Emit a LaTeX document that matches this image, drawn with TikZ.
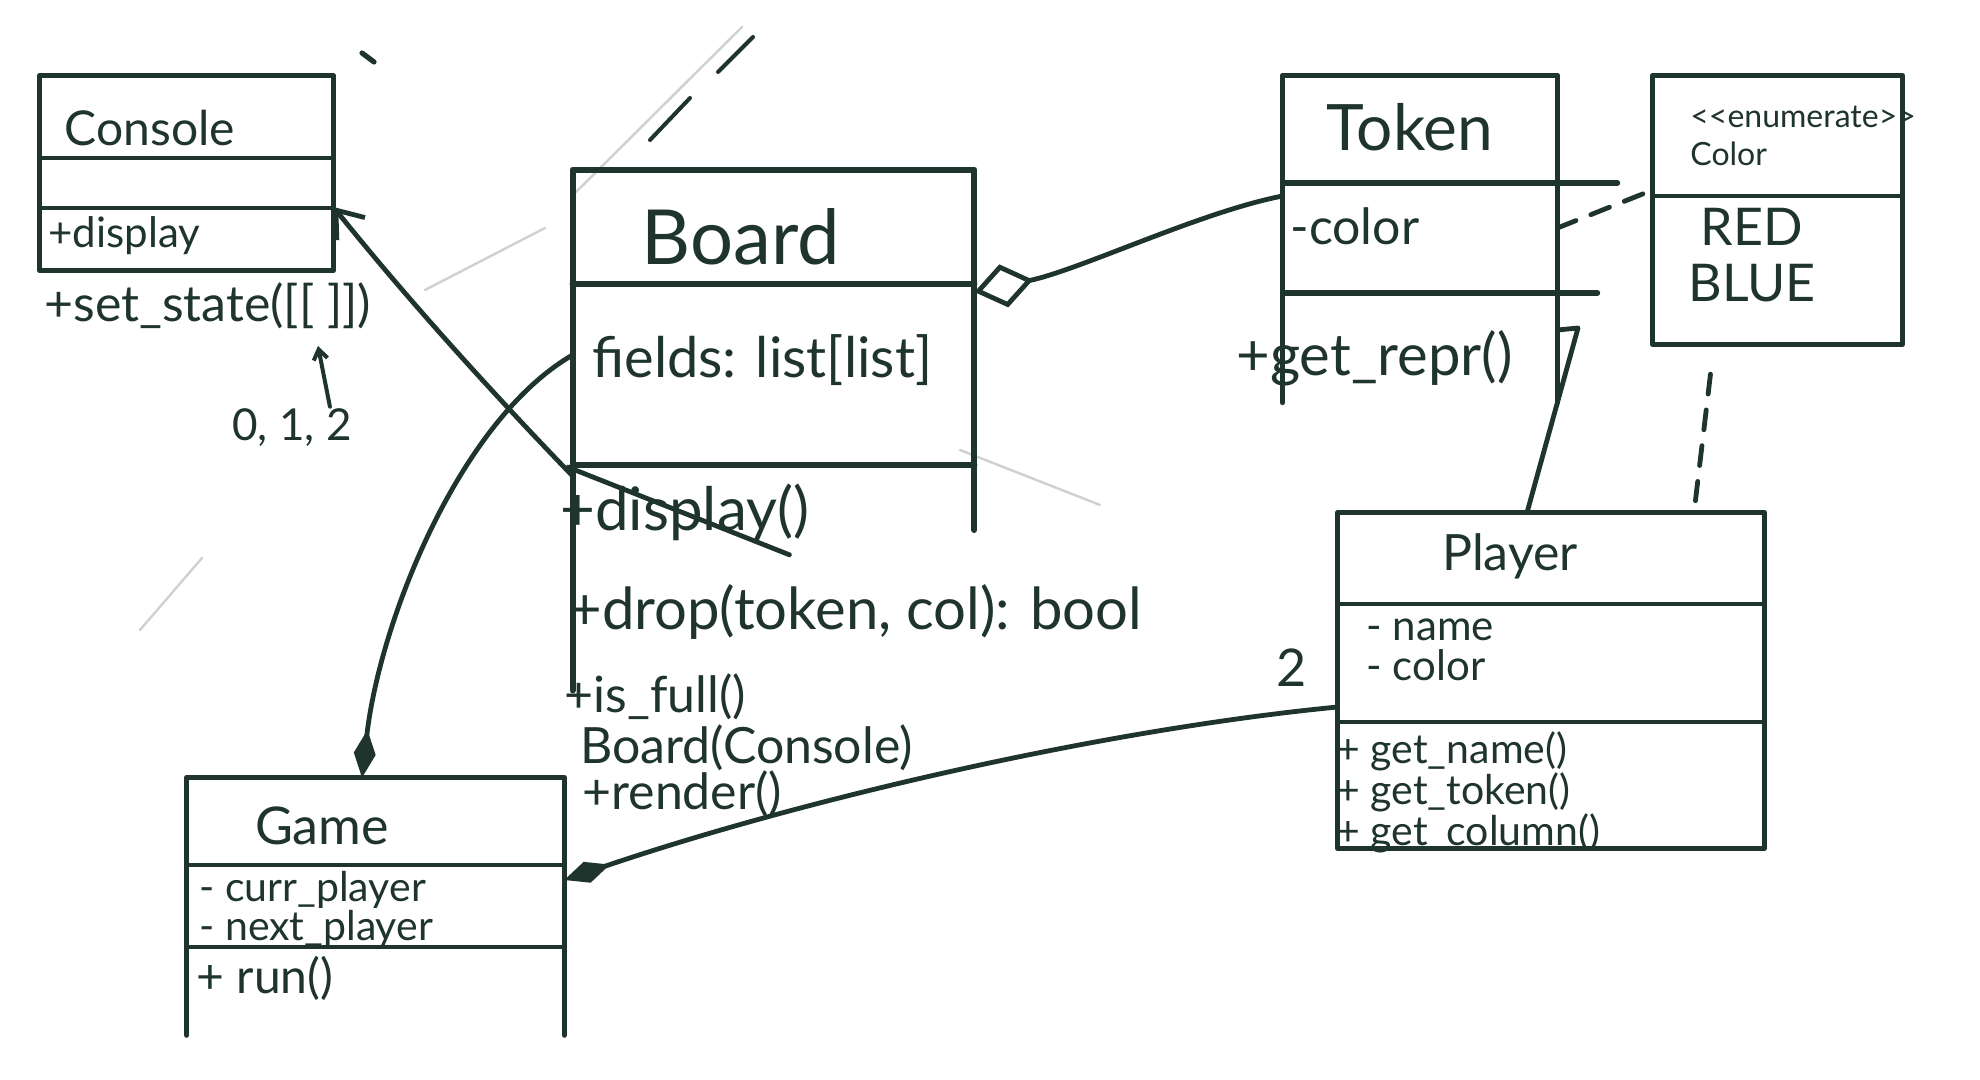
\documentclass[tikz,border=0pt]{standalone}
\usepackage{fontspec}
\setmainfont{Lato}
\usetikzlibrary{arrows.meta,fit}
\definecolor{ink}{RGB}{30,52,45}
\begin{document}
\begin{tikzpicture}[x=0.5pt,y=-0.5pt, line width=2.4pt, draw=ink, text=ink, line cap=round, line join=round,
  cls/.style={inner sep=0pt},
  txt/.style={inner sep=0pt, anchor=west, text=ink, font=\fontsize{#1}{#1}\selectfont},
  ttl/.style={inner sep=0pt, text=ink, font=\fontsize{#1}{#1}\selectfont},
  faint/.style={draw=ink!22, line width=1.2pt},
  comp/.style={{Diamond[length=24pt,width=11pt]}-},
  agg/.style={{Diamond[open,length=30pt,width=22pt]}-},
  dep/.style={-{Straight Barb[length=12pt,width=18pt]}},
  dashline/.style={dash pattern=on 10pt off 8pt}]
\useasboundingbox[fill=white] (0,0) rectangle (1980,1080);

% stray strokes
\draw[faint] (573,195) -- (742,27);
\draw[line width=2pt] (650,140) -- (690,98);
\draw[line width=2pt] (718,72) -- (753,37);
\draw[line width=2.6pt] (362,53) -- (374,62);
\draw[faint] (425,290) -- (545,228);
\draw[faint] (140,630) -- (202,558);
\draw[faint] (960,450) -- (1100,505);

% ---------- Console ----------
\node[cls, fit={(42,78) (331,268)}] (console) {};
\draw (console.north west) rectangle (console.south east);
\draw (console.west |- 0,158) -- (console.east |- 0,158);
\draw (console.west |- 0,208) -- (console.east |- 0,208);
\node[ttl=24] (consolename) at (150,128) {Console};
\node[txt=21] (cdisplay) at (46,236) {+display};
\node[txt=25] (csetstate) at (42,306) {+set\_state([[ ]])};
\node[ttl=22] (cidx) at (292,428) {0, 1, 2};
\coordinate (cidxtip) at (318,346);
\draw[-{Straight Barb[length=5pt,width=7pt]}, line width=2pt] (cidx.north east) ++(-24,0) -- (cidxtip);

% ---------- Board ----------
\node[cls, fit={(575,172) (972,688)}] (board) {};
\draw[line width=3pt] (board.south west) -- (board.north west) -- (board.north east) -- (board.east |- 0,530);
\draw[line width=3pt] (board.west |- 0,284) -- (board.east |- 0,284);
\draw[line width=3pt] (board.west |- 0,465) -- (board.east |- 0,465);
\node[ttl=38] (boardname) at (741,237) {Board};
\node[txt=28] (bfields) at (590,360) {fields: list[list]};
\node[txt=30] (bdisplay) at (558,512) {+display()};
\draw[line width=2.4pt] ([shift={(10,-14)}]bdisplay.north west) -- ([shift={(-22,12)}]bdisplay.south east);
\node[txt=29] (bdrop) at (566,612) {+drop(token, col): bool};
\node[txt=25] (bisfull) at (562,697) {+is\_full()};
\node[txt=25] (bctor) at (578,748) {Board(Console)};
\node[txt=25] (brender) at (580,794) {+render()};

% ---------- Token ----------
\node[cls, fit={(1285,78) (1555,400)}] (token) {};
\draw[line width=2.8pt] (token.south west) -- (token.north west) -- (token.north east) -- (token.south east);
\draw[line width=2.8pt] (token.west |- 0,183) -- ([xshift=30]token.east |- 0,183);
\draw[line width=2.8pt] (token.west |- 0,293) -- ([xshift=20]token.east |- 0,293);
\node[ttl=32] (tokenname) at (1410,127) {Token};
\node[txt=25] (tcolor) at (1288,226) {-color};
\node[txt=29] (trepr) at (1234,358) {+get\_repr()};

% ---------- Color enum ----------
\node[cls, fit={(1655,78) (1900,342)}] (enum) {};
\draw (enum.north west) rectangle (enum.south east);
\draw (enum.west |- 0,196) -- (enum.east |- 0,196);
\node[txt=16, anchor=north west, align=left, font=\fontsize{16}{19}\selectfont] (ehead) at (1688,104) {{<}{<}enumerate{>}{>}\\Color};
\node[ttl=26, anchor=north, align=center, font=\fontsize{26}{28}\selectfont] (evals) at (1752,206) {RED\\BLUE};

% ---------- Player ----------
\node[cls, fit={(1340,515) (1762,846)}] (player) {};
\draw (player.north west) rectangle (player.south east);
\draw (player.west |- 0,604) -- (player.east |- 0,604);
\draw (player.west |- 0,722) -- (player.east |- 0,722);
\node[ttl=25] (playername) at (1510,556) {Player};
\node[txt=21, anchor=north west, align=left, font=\fontsize{21}{20}\selectfont] (pattrs) at (1364,616) {- name\\- color};
\node[txt=20, anchor=north west, align=left, font=\fontsize{20.5}{17.5}\selectfont] (pmeths) at (1334,729) {+ get\_name()\\+ get\_token()\\+ get\_column()};

% ---------- Game ----------
\node[cls, fit={(189,780) (562,1033)}] (game) {};
\draw (game.south west) -- (game.north west) -- (game.north east) -- (game.south east);
\draw (game.west |- 0,865) -- (game.east |- 0,865);
\draw (game.west |- 0,947) -- (game.east |- 0,947);
\node[ttl=26] (gamename) at (322,826) {Game};
\node[txt=20, anchor=north west, align=left, font=\fontsize{20.5}{16}\selectfont] (gattrs) at (197,869) {- curr\_player\\- next\_player};
\node[txt=24] (grun) at (194,978) {+ run()};

% ---------- connectors ----------
\draw[dep] (board.west |- 0,476) .. controls (480,380) and (400,290) .. (console.east |- 0,207);
\draw[comp] (game.north -| 362,0) .. controls (380,620) and (460,420) .. (board.west |- 0,355);
\draw[comp] (game.east |- 0,880) .. controls (800,800) and (1100,730) .. (player.west |- 0,707);
\node[ttl=26] (mult) at (1292,668) {2};
\draw[agg] (board.east |- 0,292) .. controls (1080,270) and (1200,212) .. (token.west |- 0,196);
\draw[dashline] (token.east |- 0,228) -- (enum.west |- 0,190);
\draw[dashline, shorten <=15pt, shorten >=6pt] (enum.south -| 1714,0) -- (player.north -| 1694,0);
\draw (token.east |- 0,330) -- (1578,328) -- (player.north -| 1527,0);
\end{tikzpicture}
\end{document}
